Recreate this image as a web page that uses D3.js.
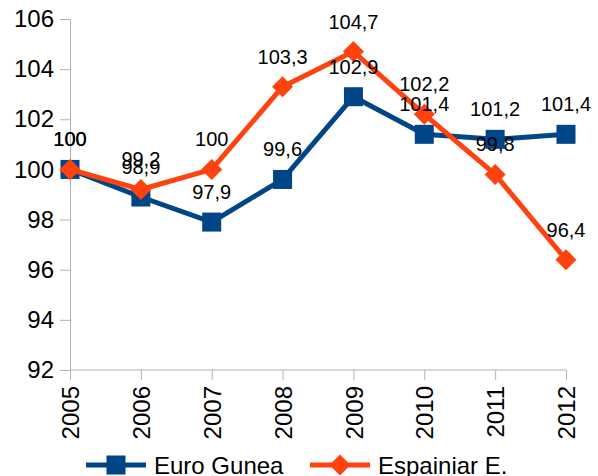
<!DOCTYPE html>
<html>
<head>
<meta charset="utf-8">
<script src="https://cdn.jsdelivr.net/npm/d3@7"></script>
<style>
  body { margin: 0; background: #fff; }
  svg { font-family: "Liberation Sans", Arial, sans-serif; display: block; }
</style>
</head>
<body>
<div id="chart"></div>
<script>
var years = [2005, 2006, 2007, 2008, 2009, 2010, 2011, 2012];
var euroGunea = [100, 98.9, 97.9, 99.6, 102.9, 101.4, 101.2, 101.4];
var espainia = [100, 99.2, 100, 103.3, 104.7, 102.2, 99.8, 96.4];
var yTicks = [92, 94, 96, 98, 100, 102, 104, 106];

var series = [
  { name: 'Euro Gunea', values: euroGunea, color: '#004586', marker: 'square' },
  { name: 'Espainiar E.', values: espainia, color: '#ff420e', marker: 'diamond' }
];

var width = 598, height = 476;
var margin = { left: 70, right: 32, top: 19, bottom: 106 };
var axisColor = '#b3b3b3';

var svg = d3.select('#chart').append('svg')
  .attr('width', width)
  .attr('height', height);

var x = d3.scalePoint()
  .domain(years)
  .range([margin.left, width - margin.right]);

var y = d3.scaleLinear()
  .domain([92, 106])
  .range([height - margin.bottom, margin.top]);

// y axis
var yAxis = svg.append('g')
  .attr('transform', 'translate(' + margin.left + ',0)')
  .call(d3.axisLeft(y).tickValues(yTicks).tickSize(10).tickPadding(6).tickFormat(d3.format('d')));
yAxis.selectAll('path, line').attr('stroke', axisColor);
yAxis.selectAll('text').attr('font-size', 24).attr('fill', '#000');

// x axis
var xAxis = svg.append('g')
  .attr('transform', 'translate(0,' + (height - margin.bottom) + ')')
  .call(d3.axisBottom(x).tickSize(10).tickSizeOuter(0));
xAxis.select('.domain').attr('d', 'M' + margin.left + ',0H' + (width - margin.right)).attr('stroke', axisColor);
xAxis.selectAll('line').attr('stroke', axisColor);
xAxis.selectAll('text')
  .attr('font-size', 24)
  .attr('fill', '#000')
  .attr('transform', 'rotate(-90)')
  .attr('text-anchor', 'end')
  .attr('x', -16)
  .attr('y', 0)
  .attr('dy', '0.36em');

var line = d3.line()
  .x((d, i) => x(years[i]))
  .y(d => y(d));

var fmt = v => String(v).replace('.', ',');

function drawMarker(g, type, color, size) {
  if (type === 'square') {
    g.append('rect')
      .attr('x', -size / 2).attr('y', -size / 2)
      .attr('width', size).attr('height', size)
      .attr('fill', color);
  } else {
    var h = size / 2 + 1;
    g.append('path')
      .attr('d', 'M0,' + (-h) + 'L' + h + ',0L0,' + h + 'L' + (-h) + ',0Z')
      .attr('fill', color);
  }
}

series.forEach(s => {
  var g = svg.append('g');
  g.append('path')
    .datum(s.values)
    .attr('d', line)
    .attr('fill', 'none')
    .attr('stroke', s.color)
    .attr('stroke-width', 5)
    .attr('stroke-linejoin', 'round');
  g.selectAll('.pt').data(s.values).enter()
    .append('g')
    .attr('transform', (d, i) => 'translate(' + x(years[i]) + ',' + y(d) + ')')
    .each(function () { drawMarker(d3.select(this), s.marker, s.color, 19); });
});

// data labels
series.forEach(s => {
  svg.append('g').selectAll('text').data(s.values).enter()
    .append('text')
    .attr('x', (d, i) => x(years[i]))
    .attr('y', d => y(d) - 23)
    .attr('text-anchor', 'middle')
    .attr('font-size', 20)
    .attr('fill', '#000')
    .text(fmt);
});

// legend
var legendY = 465;
var legendX = [86, 310];
series.forEach((s, i) => {
  var g = svg.append('g').attr('transform', 'translate(' + legendX[i] + ',' + legendY + ')');
  g.append('line')
    .attr('x1', 0).attr('x2', 60)
    .attr('stroke', s.color)
    .attr('stroke-width', 5);
  var m = g.append('g').attr('transform', 'translate(30,0)');
  drawMarker(m, s.marker, s.color, 19);
  g.append('text')
    .attr('x', 68)
    .attr('dy', '0.36em')
    .attr('font-size', 24)
    .attr('fill', '#000')
    .text(s.name);
});
</script>
</body>
</html>
